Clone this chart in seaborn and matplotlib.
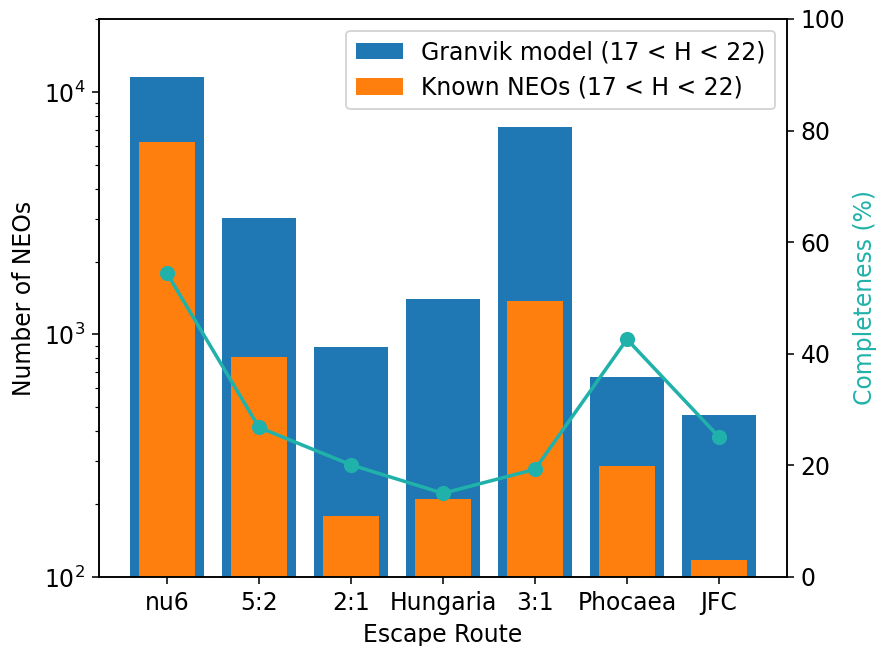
import matplotlib
matplotlib.use("Agg")
import matplotlib.pyplot as plt
import seaborn as sns
import numpy as np

routes = ["nu6", "5:2", "2:1", "Hungaria", "3:1", "Phocaea", "JFC"]
granvik = [11500, 3030, 890, 1400, 7200, 665, 465]
known = [6200, 805, 178, 209, 1380, 286, 117]
completeness = [54.4, 26.8, 20.1, 15.0, 19.3, 42.6, 25.1]

plt.rcParams['font.size'] = 12
plt.rcParams['font.family'] = ['DejaVu Sans']

dpi = 141
fig = plt.figure(figsize=(877 / dpi, 646 / dpi), dpi=dpi)
ax = fig.add_axes([99 / 877, 1 - 577 / 646, (787 - 99) / 877, (577 - 19) / 646])

sns.barplot(x=routes, y=granvik, color="#1f77b4", saturation=1, width=0.8,
            label="Granvik model (17 < H < 22)", ax=ax, errorbar=None)
sns.barplot(x=routes, y=known, color="#ff7f0e", saturation=1, width=0.6,
            label="Known NEOs (17 < H < 22)", ax=ax, errorbar=None)
ax.set_yscale("log")
ax.set_ylim(100, 2e4)
ax.set_xlim(-0.74, 6.74)
ax.set_xlabel("Escape Route")
ax.set_ylabel("Number of NEOs")
ax.legend(loc="upper right")

teal = "#20b2aa"
ax2 = ax.twinx()
sns.lineplot(x=np.arange(len(routes)), y=completeness, color=teal, marker="o",
             markersize=7, markeredgecolor=teal, linewidth=1.8, ax=ax2)
ax2.set_ylim(0, 100)
ax2.set_yticks([0, 20, 40, 60, 80, 100])
ax2.set_ylabel("Completeness (%)", color=teal)
ax2.set_xlim(-0.74, 6.74)

fig.savefig("out.png", dpi=dpi)
